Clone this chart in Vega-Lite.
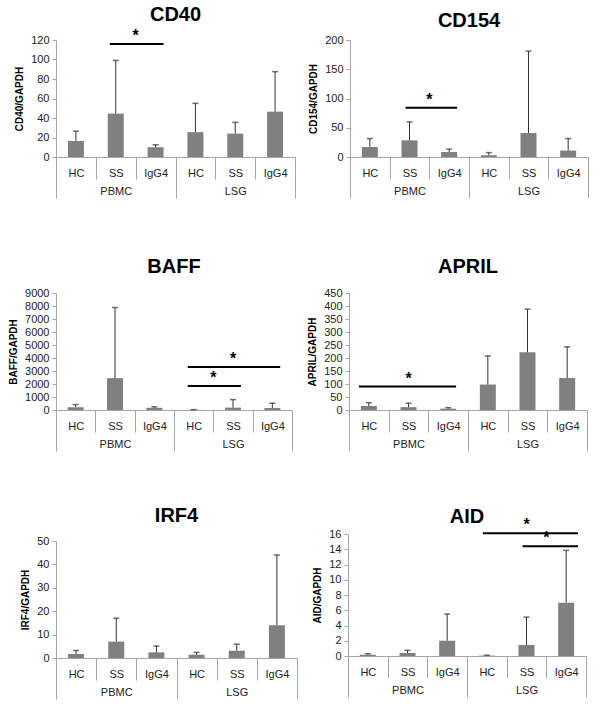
{
  "$schema": "https://vega.github.io/schema/vega-lite/v6.json",
  "padding": {"top": 4, "left": 8, "right": 5, "bottom": 5},
  "columns": 1,
  "align": "none",
  "spacing": 54,
  "datasets": {
    "bars": [
      {"gene": "CD40", "group": "PBMC", "key": "PBMC-HC", "mean": 16.5, "upper": 26.5},
      {"gene": "CD40", "group": "PBMC", "key": "PBMC-SS", "mean": 44.5, "upper": 99},
      {"gene": "CD40", "group": "PBMC", "key": "PBMC-IgG4", "mean": 10, "upper": 12.5},
      {"gene": "CD40", "group": "LSG", "key": "LSG-HC", "mean": 25.5, "upper": 55},
      {"gene": "CD40", "group": "LSG", "key": "LSG-SS", "mean": 24, "upper": 35.5},
      {"gene": "CD40", "group": "LSG", "key": "LSG-IgG4", "mean": 46.5, "upper": 87.5},
      {"gene": "CD154", "group": "PBMC", "key": "PBMC-HC", "mean": 17, "upper": 31.5},
      {"gene": "CD154", "group": "PBMC", "key": "PBMC-SS", "mean": 28.5, "upper": 60},
      {"gene": "CD154", "group": "PBMC", "key": "PBMC-IgG4", "mean": 8.5, "upper": 13.5},
      {"gene": "CD154", "group": "LSG", "key": "LSG-HC", "mean": 3, "upper": 7.5},
      {"gene": "CD154", "group": "LSG", "key": "LSG-SS", "mean": 41, "upper": 181},
      {"gene": "CD154", "group": "LSG", "key": "LSG-IgG4", "mean": 11, "upper": 31.5},
      {"gene": "BAFF", "group": "PBMC", "key": "PBMC-HC", "mean": 220, "upper": 420},
      {"gene": "BAFF", "group": "PBMC", "key": "PBMC-SS", "mean": 2450, "upper": 7880},
      {"gene": "BAFF", "group": "PBMC", "key": "PBMC-IgG4", "mean": 170, "upper": 250},
      {"gene": "BAFF", "group": "LSG", "key": "LSG-HC", "mean": 15, "upper": 30},
      {"gene": "BAFF", "group": "LSG", "key": "LSG-SS", "mean": 180, "upper": 800},
      {"gene": "BAFF", "group": "LSG", "key": "LSG-IgG4", "mean": 150, "upper": 520},
      {"gene": "APRIL", "group": "PBMC", "key": "PBMC-HC", "mean": 15, "upper": 28},
      {"gene": "APRIL", "group": "PBMC", "key": "PBMC-SS", "mean": 11, "upper": 26},
      {"gene": "APRIL", "group": "PBMC", "key": "PBMC-IgG4", "mean": 5, "upper": 9},
      {"gene": "APRIL", "group": "LSG", "key": "LSG-HC", "mean": 98, "upper": 208},
      {"gene": "APRIL", "group": "LSG", "key": "LSG-SS", "mean": 222, "upper": 388},
      {"gene": "APRIL", "group": "LSG", "key": "LSG-IgG4", "mean": 123, "upper": 243},
      {"gene": "IRF4", "group": "PBMC", "key": "PBMC-HC", "mean": 1.7, "upper": 3.2},
      {"gene": "IRF4", "group": "PBMC", "key": "PBMC-SS", "mean": 7, "upper": 17},
      {"gene": "IRF4", "group": "PBMC", "key": "PBMC-IgG4", "mean": 2.4, "upper": 5.1},
      {"gene": "IRF4", "group": "LSG", "key": "LSG-HC", "mean": 1.4, "upper": 2.4},
      {"gene": "IRF4", "group": "LSG", "key": "LSG-SS", "mean": 3.1, "upper": 5.9},
      {"gene": "IRF4", "group": "LSG", "key": "LSG-IgG4", "mean": 14, "upper": 44},
      {"gene": "AID", "group": "PBMC", "key": "PBMC-HC", "mean": 0.15, "upper": 0.3},
      {"gene": "AID", "group": "PBMC", "key": "PBMC-SS", "mean": 0.4, "upper": 0.75},
      {"gene": "AID", "group": "PBMC", "key": "PBMC-IgG4", "mean": 2.0, "upper": 5.5},
      {"gene": "AID", "group": "LSG", "key": "LSG-HC", "mean": 0.05, "upper": 0.1},
      {"gene": "AID", "group": "LSG", "key": "LSG-SS", "mean": 1.45, "upper": 5.1},
      {"gene": "AID", "group": "LSG", "key": "LSG-IgG4", "mean": 7.0, "upper": 13.85}
    ],
    "sig": [
      {"gene": "CD40", "from": "PBMC-SS", "to": "PBMC-IgG4", "mid": "PBMC-IgG4", "span": 2, "y": 116},
      {"gene": "CD154", "from": "PBMC-SS", "to": "PBMC-IgG4", "mid": "PBMC-IgG4", "span": 2, "y": 84},
      {"gene": "BAFF", "from": "LSG-HC", "to": "LSG-SS", "mid": "LSG-SS", "span": 2, "y": 1850},
      {"gene": "BAFF", "from": "LSG-HC", "to": "LSG-IgG4", "mid": "LSG-SS", "span": 3, "y": 3300},
      {"gene": "APRIL", "from": "PBMC-HC", "to": "PBMC-IgG4", "mid": "PBMC-SS", "span": 3, "y": 90},
      {"gene": "AID", "from": "LSG-HC", "to": "LSG-IgG4", "mid": "LSG-SS", "span": 3, "y": 16.1},
      {"gene": "AID", "from": "LSG-SS", "to": "LSG-IgG4", "mid": "LSG-IgG4", "span": 2, "y": 14.4}
    ]
  },
  "concat": [
    {
      "columns": 1,
      "align": "none",
      "spacing": 58,
      "concat": [
        {
          "spacing": 12,
          "hconcat": [
            {
              "title": {"text": "CD40", "offset": 3}, "width": 239, "height": 117,
              "layer": [
                {"layer": [
                  {"data": {"name": "bars"}, "transform": [{"filter": "datum.gene == 'CD40'"}],
                   "mark": {"type": "bar", "size": 16, "color": "#808080"},
                   "encoding": {
                     "x": {"field": "key", "type": "nominal", "title": null, "scale": {"type": "band", "domain": ["PBMC-HC","PBMC-SS","PBMC-IgG4","LSG-HC","LSG-SS","LSG-IgG4"], "paddingInner": 0, "paddingOuter": 0},
                           "axis": {"labelExpr": "split(datum.value, '-')[1]", "tickBand": "extent", "tickSize": 22, "labelPadding": -12, "labelAngle": 0, "title": null}},
                     "y": {"field": "mean", "type": "quantitative", "scale": {"domain": [0, 120], "nice": false},
                           "axis": {"values": [0,20,40,60,80,100,120], "tickCount": 12, "labelOverlap": false, "title": "CD40/GAPDH"}}}},
                  {"data": {"name": "bars"}, "transform": [{"filter": "datum.gene == 'CD40'"}],
                   "mark": {"type": "rule", "color": "#333333", "strokeWidth": 1},
                   "encoding": {"x": {"field": "key", "type": "nominal"}, "y": {"field": "mean", "type": "quantitative", "axis": {"values": [0,20,40,60,80,100,120], "tickCount": 12, "labelOverlap": false, "title": "CD40/GAPDH"}}, "y2": {"field": "upper"}}},
                  {"data": {"name": "bars"}, "transform": [{"filter": "datum.gene == 'CD40'"}],
                   "mark": {"type": "tick", "color": "#333333", "size": 6, "thickness": 1.5, "orient": "horizontal"},
                   "encoding": {"x": {"field": "key", "type": "nominal"}, "y": {"field": "upper", "type": "quantitative", "axis": {"values": [0,20,40,60,80,100,120], "tickCount": 12, "labelOverlap": false, "title": "CD40/GAPDH"}}}},
                  {"data": {"name": "sig"}, "transform": [{"filter": "datum.gene == 'CD40'"}],
                   "mark": {"type": "rule", "color": "black", "strokeWidth": 2},
                   "encoding": {"x": {"field": "from", "type": "nominal", "bandPosition": 0.35}, "x2": {"field": "to", "bandPosition": 0.7}, "y": {"field": "y", "type": "quantitative", "axis": {"values": [0,20,40,60,80,100,120], "tickCount": 12, "labelOverlap": false, "title": "CD40/GAPDH"}}}},
                  {"data": {"name": "sig"}, "transform": [{"filter": "datum.gene == 'CD40' && datum.span == 2"}],
                   "mark": {"type": "text", "text": "*", "fontSize": 16, "fontWeight": "bold", "baseline": "bottom"},
                   "encoding": {"x": {"field": "mid", "type": "nominal", "bandPosition": 0}, "y": {"field": "y", "type": "quantitative", "axis": {"values": [0,20,40,60,80,100,120], "tickCount": 12, "labelOverlap": false, "title": "CD40/GAPDH"}}}}
                ]},
                {"data": {"name": "bars"}, "transform": [{"filter": "datum.gene == 'CD40'"}],
                 "mark": {"type": "point", "opacity": 0},
                 "encoding": {"x": {"field": "group", "type": "nominal", "title": null, "scale": {"type": "band", "domain": ["PBMC","LSG"], "paddingInner": 0, "paddingOuter": 0},
                                    "axis": {"orient": "bottom", "domain": false, "tickBand": "extent", "tickSize": 41, "labelPadding": -13, "labelAngle": 0, "title": null}}}}
              ],
              "resolve": {"scale": {"x": "independent"}, "axis": {"x": "independent"}}
            },
            {
              "title": {"text": "CD154", "offset": 3}, "width": 238, "height": 117,
              "layer": [
                {"layer": [
                  {"data": {"name": "bars"}, "transform": [{"filter": "datum.gene == 'CD154'"}],
                   "mark": {"type": "bar", "size": 16, "color": "#808080"},
                   "encoding": {
                     "x": {"field": "key", "type": "nominal", "title": null, "scale": {"type": "band", "domain": ["PBMC-HC","PBMC-SS","PBMC-IgG4","LSG-HC","LSG-SS","LSG-IgG4"], "paddingInner": 0, "paddingOuter": 0},
                           "axis": {"labelExpr": "split(datum.value, '-')[1]", "tickBand": "extent", "tickSize": 22, "labelPadding": -12, "labelAngle": 0, "title": null}},
                     "y": {"field": "mean", "type": "quantitative", "scale": {"domain": [0, 200], "nice": false},
                           "axis": {"values": [0,50,100,150,200], "tickCount": 12, "labelOverlap": false, "title": "CD154/GAPDH"}}}},
                  {"data": {"name": "bars"}, "transform": [{"filter": "datum.gene == 'CD154'"}],
                   "mark": {"type": "rule", "color": "#333333", "strokeWidth": 1},
                   "encoding": {"x": {"field": "key", "type": "nominal"}, "y": {"field": "mean", "type": "quantitative", "axis": {"values": [0,50,100,150,200], "tickCount": 12, "labelOverlap": false, "title": "CD154/GAPDH"}}, "y2": {"field": "upper"}}},
                  {"data": {"name": "bars"}, "transform": [{"filter": "datum.gene == 'CD154'"}],
                   "mark": {"type": "tick", "color": "#333333", "size": 6, "thickness": 1.5, "orient": "horizontal"},
                   "encoding": {"x": {"field": "key", "type": "nominal"}, "y": {"field": "upper", "type": "quantitative", "axis": {"values": [0,50,100,150,200], "tickCount": 12, "labelOverlap": false, "title": "CD154/GAPDH"}}}},
                  {"data": {"name": "sig"}, "transform": [{"filter": "datum.gene == 'CD154'"}],
                   "mark": {"type": "rule", "color": "black", "strokeWidth": 2},
                   "encoding": {"x": {"field": "from", "type": "nominal", "bandPosition": 0.4}, "x2": {"field": "to", "bandPosition": 0.7}, "y": {"field": "y", "type": "quantitative", "axis": {"values": [0,50,100,150,200], "tickCount": 12, "labelOverlap": false, "title": "CD154/GAPDH"}}}},
                  {"data": {"name": "sig"}, "transform": [{"filter": "datum.gene == 'CD154' && datum.span == 2"}],
                   "mark": {"type": "text", "text": "*", "fontSize": 16, "fontWeight": "bold", "baseline": "bottom"},
                   "encoding": {"x": {"field": "mid", "type": "nominal", "bandPosition": 0}, "y": {"field": "y", "type": "quantitative", "axis": {"values": [0,50,100,150,200], "tickCount": 12, "labelOverlap": false, "title": "CD154/GAPDH"}}}}
                ]},
                {"data": {"name": "bars"}, "transform": [{"filter": "datum.gene == 'CD154'"}],
                 "mark": {"type": "point", "opacity": 0},
                 "encoding": {"x": {"field": "group", "type": "nominal", "title": null, "scale": {"type": "band", "domain": ["PBMC","LSG"], "paddingInner": 0, "paddingOuter": 0},
                                    "axis": {"orient": "bottom", "domain": false, "tickBand": "extent", "tickSize": 41, "labelPadding": -13, "labelAngle": 0, "title": null}}}}
              ],
              "resolve": {"scale": {"x": "independent"}, "axis": {"x": "independent"}}
            }
          ]
        },
        {
          "spacing": 14,
          "hconcat": [
            {
              "title": {"text": "BAFF", "offset": 10}, "width": 236, "height": 117,
              "layer": [
                {"layer": [
                  {"data": {"name": "bars"}, "transform": [{"filter": "datum.gene == 'BAFF'"}],
                   "mark": {"type": "bar", "size": 16, "color": "#808080"},
                   "encoding": {
                     "x": {"field": "key", "type": "nominal", "title": null, "scale": {"type": "band", "domain": ["PBMC-HC","PBMC-SS","PBMC-IgG4","LSG-HC","LSG-SS","LSG-IgG4"], "paddingInner": 0, "paddingOuter": 0},
                           "axis": {"labelExpr": "split(datum.value, '-')[1]", "tickBand": "extent", "tickSize": 22, "labelPadding": -12, "labelAngle": 0, "title": null}},
                     "y": {"field": "mean", "type": "quantitative", "scale": {"domain": [0, 9000], "nice": false},
                           "axis": {"values": [0,1000,2000,3000,4000,5000,6000,7000,8000,9000], "tickCount": 12, "labelOverlap": false, "title": "BAFF/GAPDH"}}}},
                  {"data": {"name": "bars"}, "transform": [{"filter": "datum.gene == 'BAFF'"}],
                   "mark": {"type": "rule", "color": "#333333", "strokeWidth": 1},
                   "encoding": {"x": {"field": "key", "type": "nominal"}, "y": {"field": "mean", "type": "quantitative", "axis": {"values": [0,1000,2000,3000,4000,5000,6000,7000,8000,9000], "tickCount": 12, "labelOverlap": false, "title": "BAFF/GAPDH"}}, "y2": {"field": "upper"}}},
                  {"data": {"name": "bars"}, "transform": [{"filter": "datum.gene == 'BAFF'"}],
                   "mark": {"type": "tick", "color": "#333333", "size": 6, "thickness": 1.5, "orient": "horizontal"},
                   "encoding": {"x": {"field": "key", "type": "nominal"}, "y": {"field": "upper", "type": "quantitative", "axis": {"values": [0,1000,2000,3000,4000,5000,6000,7000,8000,9000], "tickCount": 12, "labelOverlap": false, "title": "BAFF/GAPDH"}}}},
                  {"data": {"name": "sig"}, "transform": [{"filter": "datum.gene == 'BAFF'"}],
                   "mark": {"type": "rule", "color": "black", "strokeWidth": 2},
                   "encoding": {"x": {"field": "from", "type": "nominal", "bandPosition": 0.35}, "x2": {"field": "to", "bandPosition": 0.7}, "y": {"field": "y", "type": "quantitative", "axis": {"values": [0,1000,2000,3000,4000,5000,6000,7000,8000,9000], "tickCount": 12, "labelOverlap": false, "title": "BAFF/GAPDH"}}}},
                  {"data": {"name": "sig"}, "transform": [{"filter": "datum.gene == 'BAFF' && datum.span == 2"}],
                   "mark": {"type": "text", "text": "*", "fontSize": 16, "fontWeight": "bold", "baseline": "bottom"},
                   "encoding": {"x": {"field": "mid", "type": "nominal", "bandPosition": 0}, "y": {"field": "y", "type": "quantitative", "axis": {"values": [0,1000,2000,3000,4000,5000,6000,7000,8000,9000], "tickCount": 12, "labelOverlap": false, "title": "BAFF/GAPDH"}}}},
                  {"data": {"name": "sig"}, "transform": [{"filter": "datum.gene == 'BAFF' && datum.span == 3"}],
                   "mark": {"type": "text", "text": "*", "fontSize": 16, "fontWeight": "bold", "baseline": "bottom"},
                   "encoding": {"x": {"field": "mid", "type": "nominal", "bandPosition": 0.5}, "y": {"field": "y", "type": "quantitative", "axis": {"values": [0,1000,2000,3000,4000,5000,6000,7000,8000,9000], "tickCount": 12, "labelOverlap": false, "title": "BAFF/GAPDH"}}}}
                ]},
                {"data": {"name": "bars"}, "transform": [{"filter": "datum.gene == 'BAFF'"}],
                 "mark": {"type": "point", "opacity": 0},
                 "encoding": {"x": {"field": "group", "type": "nominal", "title": null, "scale": {"type": "band", "domain": ["PBMC","LSG"], "paddingInner": 0, "paddingOuter": 0},
                                    "axis": {"orient": "bottom", "domain": false, "tickBand": "extent", "tickSize": 41, "labelPadding": -13, "labelAngle": 0, "title": null}}}}
              ],
              "resolve": {"scale": {"x": "independent"}, "axis": {"x": "independent"}}
            },
            {
              "title": {"text": "APRIL", "offset": 10}, "width": 238, "height": 117,
              "layer": [
                {"layer": [
                  {"data": {"name": "bars"}, "transform": [{"filter": "datum.gene == 'APRIL'"}],
                   "mark": {"type": "bar", "size": 16, "color": "#808080"},
                   "encoding": {
                     "x": {"field": "key", "type": "nominal", "title": null, "scale": {"type": "band", "domain": ["PBMC-HC","PBMC-SS","PBMC-IgG4","LSG-HC","LSG-SS","LSG-IgG4"], "paddingInner": 0, "paddingOuter": 0},
                           "axis": {"labelExpr": "split(datum.value, '-')[1]", "tickBand": "extent", "tickSize": 22, "labelPadding": -12, "labelAngle": 0, "title": null}},
                     "y": {"field": "mean", "type": "quantitative", "scale": {"domain": [0, 450], "nice": false},
                           "axis": {"values": [0,50,100,150,200,250,300,350,400,450], "tickCount": 12, "labelOverlap": false, "title": "APRIL/GAPDH"}}}},
                  {"data": {"name": "bars"}, "transform": [{"filter": "datum.gene == 'APRIL'"}],
                   "mark": {"type": "rule", "color": "#333333", "strokeWidth": 1},
                   "encoding": {"x": {"field": "key", "type": "nominal"}, "y": {"field": "mean", "type": "quantitative", "axis": {"values": [0,50,100,150,200,250,300,350,400,450], "tickCount": 12, "labelOverlap": false, "title": "APRIL/GAPDH"}}, "y2": {"field": "upper"}}},
                  {"data": {"name": "bars"}, "transform": [{"filter": "datum.gene == 'APRIL'"}],
                   "mark": {"type": "tick", "color": "#333333", "size": 6, "thickness": 1.5, "orient": "horizontal"},
                   "encoding": {"x": {"field": "key", "type": "nominal"}, "y": {"field": "upper", "type": "quantitative", "axis": {"values": [0,50,100,150,200,250,300,350,400,450], "tickCount": 12, "labelOverlap": false, "title": "APRIL/GAPDH"}}}},
                  {"data": {"name": "sig"}, "transform": [{"filter": "datum.gene == 'APRIL'"}],
                   "mark": {"type": "rule", "color": "black", "strokeWidth": 2},
                   "encoding": {"x": {"field": "from", "type": "nominal", "bandPosition": 0.25}, "x2": {"field": "to", "bandPosition": 0.7}, "y": {"field": "y", "type": "quantitative", "axis": {"values": [0,50,100,150,200,250,300,350,400,450], "tickCount": 12, "labelOverlap": false, "title": "APRIL/GAPDH"}}}},
                  {"data": {"name": "sig"}, "transform": [{"filter": "datum.gene == 'APRIL' && datum.span == 3"}],
                   "mark": {"type": "text", "text": "*", "fontSize": 16, "fontWeight": "bold", "baseline": "bottom"},
                   "encoding": {"x": {"field": "mid", "type": "nominal", "bandPosition": 0.5}, "y": {"field": "y", "type": "quantitative", "axis": {"values": [0,50,100,150,200,250,300,350,400,450], "tickCount": 12, "labelOverlap": false, "title": "APRIL/GAPDH"}}}}
                ]},
                {"data": {"name": "bars"}, "transform": [{"filter": "datum.gene == 'APRIL'"}],
                 "mark": {"type": "point", "opacity": 0},
                 "encoding": {"x": {"field": "group", "type": "nominal", "title": null, "scale": {"type": "band", "domain": ["PBMC","LSG"], "paddingInner": 0, "paddingOuter": 0},
                                    "axis": {"orient": "bottom", "domain": false, "tickBand": "extent", "tickSize": 41, "labelPadding": -13, "labelAngle": 0, "title": null}}}}
              ],
              "resolve": {"scale": {"x": "independent"}, "axis": {"x": "independent"}}
            }
          ]
        }
      ]
    },
    {
      "spacing": 14,
      "hconcat": [
        {
          "title": {"text": "IRF4", "offset": 8}, "width": 241, "height": 124,
          "layer": [
            {"layer": [
              {"data": {"name": "bars"}, "transform": [{"filter": "datum.gene == 'IRF4'"}],
               "mark": {"type": "bar", "size": 16, "color": "#808080"},
               "encoding": {
                 "x": {"field": "key", "type": "nominal", "title": null, "scale": {"type": "band", "domain": ["PBMC-HC","PBMC-SS","PBMC-IgG4","LSG-HC","LSG-SS","LSG-IgG4"], "paddingInner": 0, "paddingOuter": 0},
                       "axis": {"labelExpr": "split(datum.value, '-')[1]", "tickBand": "extent", "tickSize": 22, "labelPadding": -12, "labelAngle": 0, "title": null}},
                 "y": {"field": "mean", "type": "quantitative", "scale": {"domain": [0, 50], "nice": false, "range": [124, 7]},
                       "axis": {"values": [0,10,20,30,40,50], "tickCount": 12, "labelOverlap": false, "title": "IRF4/GAPDH"}}}},
              {"data": {"name": "bars"}, "transform": [{"filter": "datum.gene == 'IRF4'"}],
               "mark": {"type": "rule", "color": "#333333", "strokeWidth": 1},
               "encoding": {"x": {"field": "key", "type": "nominal"}, "y": {"field": "mean", "type": "quantitative", "axis": {"values": [0,10,20,30,40,50], "tickCount": 12, "labelOverlap": false, "title": "IRF4/GAPDH"}}, "y2": {"field": "upper"}}},
              {"data": {"name": "bars"}, "transform": [{"filter": "datum.gene == 'IRF4'"}],
               "mark": {"type": "tick", "color": "#333333", "size": 6, "thickness": 1.5, "orient": "horizontal"},
               "encoding": {"x": {"field": "key", "type": "nominal"}, "y": {"field": "upper", "type": "quantitative", "axis": {"values": [0,10,20,30,40,50], "tickCount": 12, "labelOverlap": false, "title": "IRF4/GAPDH"}}}}
            ]},
            {"data": {"name": "bars"}, "transform": [{"filter": "datum.gene == 'IRF4'"}],
             "mark": {"type": "point", "opacity": 0},
             "encoding": {"x": {"field": "group", "type": "nominal", "title": null, "scale": {"type": "band", "domain": ["PBMC","LSG"], "paddingInner": 0, "paddingOuter": 0},
                                "axis": {"orient": "bottom", "domain": false, "tickBand": "extent", "tickSize": 41, "labelPadding": -13, "labelAngle": 0, "title": null}}}}
          ],
          "resolve": {"scale": {"x": "independent"}, "axis": {"x": "independent"}}
        },
        {
          "title": {"text": "AID", "offset": -10}, "width": 238, "height": 122,
          "layer": [
            {"layer": [
              {"data": {"name": "bars"}, "transform": [{"filter": "datum.gene == 'AID'"}],
               "mark": {"type": "bar", "size": 16, "color": "#808080"},
               "encoding": {
                 "x": {"field": "key", "type": "nominal", "title": null, "scale": {"type": "band", "domain": ["PBMC-HC","PBMC-SS","PBMC-IgG4","LSG-HC","LSG-SS","LSG-IgG4"], "paddingInner": 0, "paddingOuter": 0},
                       "axis": {"labelExpr": "split(datum.value, '-')[1]", "tickBand": "extent", "tickSize": 22, "labelPadding": -12, "labelAngle": 0, "title": null}},
                 "y": {"field": "mean", "type": "quantitative", "scale": {"domain": [0, 16], "nice": false},
                       "axis": {"values": [0,2,4,6,8,10,12,14,16], "tickCount": 12, "labelOverlap": false, "title": "AID/GAPDH"}}}},
              {"data": {"name": "bars"}, "transform": [{"filter": "datum.gene == 'AID'"}],
               "mark": {"type": "rule", "color": "#333333", "strokeWidth": 1},
               "encoding": {"x": {"field": "key", "type": "nominal"}, "y": {"field": "mean", "type": "quantitative", "axis": {"values": [0,2,4,6,8,10,12,14,16], "tickCount": 12, "labelOverlap": false, "title": "AID/GAPDH"}}, "y2": {"field": "upper"}}},
              {"data": {"name": "bars"}, "transform": [{"filter": "datum.gene == 'AID'"}],
               "mark": {"type": "tick", "color": "#333333", "size": 6, "thickness": 1.5, "orient": "horizontal"},
               "encoding": {"x": {"field": "key", "type": "nominal"}, "y": {"field": "upper", "type": "quantitative", "axis": {"values": [0,2,4,6,8,10,12,14,16], "tickCount": 12, "labelOverlap": false, "title": "AID/GAPDH"}}}},
              {"data": {"name": "sig"}, "transform": [{"filter": "datum.gene == 'AID'"}],
               "mark": {"type": "rule", "color": "black", "strokeWidth": 2},
               "encoding": {"x": {"field": "from", "type": "nominal", "bandPosition": 0.4}, "x2": {"field": "to", "bandPosition": 0.8}, "y": {"field": "y", "type": "quantitative", "axis": {"values": [0,2,4,6,8,10,12,14,16], "tickCount": 12, "labelOverlap": false, "title": "AID/GAPDH"}}}},
              {"data": {"name": "sig"}, "transform": [{"filter": "datum.gene == 'AID' && datum.span == 2"}],
               "mark": {"type": "text", "text": "*", "fontSize": 16, "fontWeight": "bold", "baseline": "bottom"},
               "encoding": {"x": {"field": "mid", "type": "nominal", "bandPosition": 0}, "y": {"field": "y", "type": "quantitative", "axis": {"values": [0,2,4,6,8,10,12,14,16], "tickCount": 12, "labelOverlap": false, "title": "AID/GAPDH"}}}},
              {"data": {"name": "sig"}, "transform": [{"filter": "datum.gene == 'AID' && datum.span == 3"}],
               "mark": {"type": "text", "text": "*", "fontSize": 16, "fontWeight": "bold", "baseline": "bottom"},
               "encoding": {"x": {"field": "mid", "type": "nominal", "bandPosition": 0.5}, "y": {"field": "y", "type": "quantitative", "axis": {"values": [0,2,4,6,8,10,12,14,16], "tickCount": 12, "labelOverlap": false, "title": "AID/GAPDH"}}}}
            ]},
            {"data": {"name": "bars"}, "transform": [{"filter": "datum.gene == 'AID'"}],
             "mark": {"type": "point", "opacity": 0},
             "encoding": {"x": {"field": "group", "type": "nominal", "title": null, "scale": {"type": "band", "domain": ["PBMC","LSG"], "paddingInner": 0, "paddingOuter": 0},
                                "axis": {"orient": "bottom", "domain": false, "tickBand": "extent", "tickSize": 41, "labelPadding": -13, "labelAngle": 0, "title": null}}}}
          ],
          "resolve": {"scale": {"x": "independent"}, "axis": {"x": "independent"}}
        }
      ]
    }
  ],
  "config": {
    "font": "Liberation Sans",
    "view": {"stroke": null},
    "title": {"font": "Liberation Sans", "fontSize": 20, "fontWeight": "bold", "color": "black", "offset": 12},
    "axis": {
      "grid": false,
      "domainColor": "#a6a6a6",
      "tickColor": "#a6a6a6",
      "labelFont": "Liberation Sans",
      "labelFontSize": 11,
      "labelColor": "#222222",
      "titleFont": "Liberation Sans",
      "titleFontSize": 10,
      "titleFontWeight": "bold",
      "titleColor": "black",
      "titlePadding": 6
    },
    "axisY": {"tickSize": 4, "labelPadding": 3, "labelOverlap": false, "format": "d"}
  }
}
